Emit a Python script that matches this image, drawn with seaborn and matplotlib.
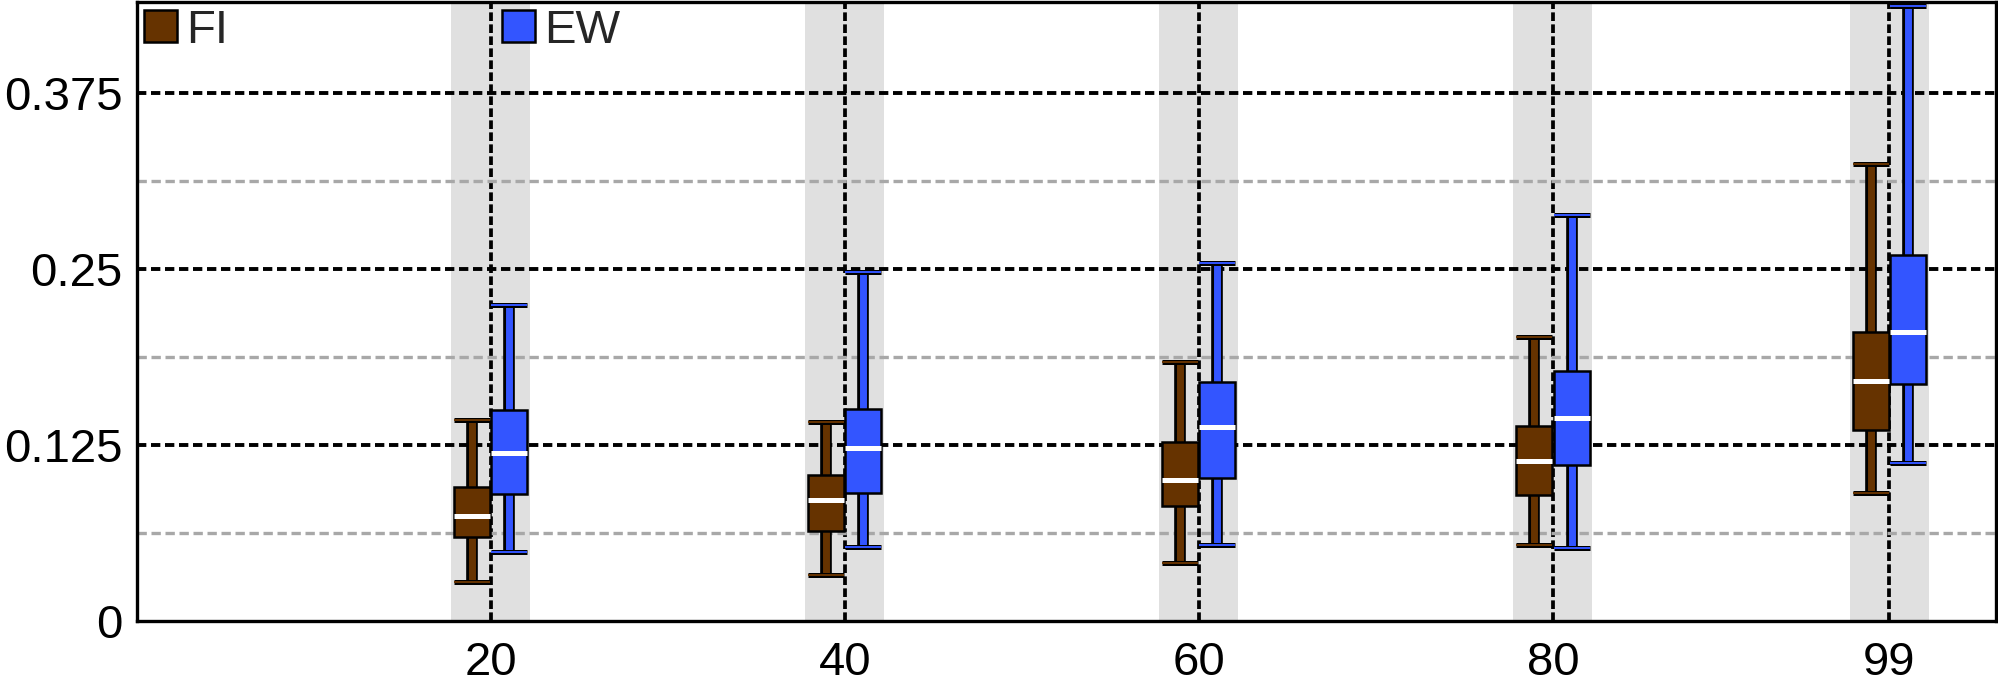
import pandas as pd
import matplotlib
matplotlib.use('Agg')
import matplotlib.pyplot as plt
import matplotlib.patheffects as pe
from matplotlib.ticker import FixedLocator
import seaborn as sns

# Percentile groups on the x axis
percentiles = [20, 40, 60, 80, 99]
methods = ['FI', 'EW']
colors = {'FI': '#663300', 'EW': '#3355ff'}

# Five-number summaries: whisker low, q1, median, q3, whisker high
fi_low = [0.0272, 0.0324, 0.0407, 0.0538, 0.0906]
fi_q1 = [0.0593, 0.0638, 0.0811, 0.0889, 0.1357]
fi_med = [0.0745, 0.0859, 0.0996, 0.1136, 0.1704]
fi_q3 = [0.0949, 0.1036, 0.1266, 0.1380, 0.2053]
fi_high = [0.1424, 0.1413, 0.1841, 0.2013, 0.3244]

ew_low = [0.0486, 0.0526, 0.0538, 0.0519, 0.1120]
ew_q1 = [0.0901, 0.0910, 0.1015, 0.1103, 0.1685]
ew_med = [0.1191, 0.1227, 0.1375, 0.1440, 0.2053]
ew_q3 = [0.1497, 0.1506, 0.1694, 0.1777, 0.2597]
ew_high = [0.2245, 0.2477, 0.2539, 0.2886, 0.4371]

ytick_vals = [0, 0.125, 0.25, 0.375]
ytick_labels = ['0', '0.125', '0.25', '0.375']
yminor_vals = [0.0625, 0.1875, 0.3125]

# Build a long table: five values per box, so quartiles/whiskers land on the read values
summaries = {
    'FI': [fi_low, fi_q1, fi_med, fi_q3, fi_high],
    'EW': [ew_low, ew_q1, ew_med, ew_q3, ew_high],
}
rows = []
for m in methods:
    for i, p in enumerate(percentiles):
        for stat in summaries[m]:
            rows.append({'pct': p, 'value': stat[i], 'method': m})
df = pd.DataFrame(rows)

sns.set_style('white')
plt.rcParams['font.family'] = ['Liberation Sans', 'DejaVu Sans']

fig = plt.figure(figsize=(19.99, 6.84), dpi=100)
ax = fig.add_axes([0.0683, 0.0928, 0.930, 0.9047])

# grey bands behind each group
for p in percentiles:
    ax.axvspan(p - 2.23, p + 2.23, color='#e0e0e0', lw=0, zorder=0)

sns.boxplot(data=df, x='pct', y='value', hue='method', hue_order=methods,
            palette=colors, native_scale=True, width=0.221, gap=0.03,
            whis=(0, 100), saturation=1, linecolor='black', linewidth=1.8,
            ax=ax)

# restyle boxes: coloured whiskers/caps with black outline, white medians
for cont in ax.containers:
    col = cont.boxes[0].get_facecolor()
    for i, box in enumerate(cont.boxes):
        box.set_zorder(2)
        xs = box.get_path().vertices[:, 0]
        for cap in cont.caps[2 * i:2 * i + 2]:
            cap.set_xdata([xs.min(), xs.max()])
    for w in cont.whiskers:
        w.set_color(col)
        w.set_linewidth(5)
        w.set_solid_capstyle('butt')
        w.set_zorder(1.9)
        w.set_path_effects([pe.Stroke(linewidth=8.4, foreground='black'), pe.Normal()])
    for c in cont.caps:
        c.set_color(col)
        c.set_linewidth(1.4)
        c.set_solid_capstyle('butt')
        c.set_zorder(1.9)
        c.set_path_effects([pe.Stroke(linewidth=3.6, foreground='black'), pe.Normal()])
    for md in cont.medians:
        md.set_color('white')
        md.set_linewidth(3.6)
        md.set_zorder(2.1)

ax.set_xlim(0, 105)
ax.set_ylim(0, 0.44)
ax.set_xticks(percentiles)
ax.set_xticklabels([str(p) for p in percentiles])
ax.set_yticks(ytick_vals)
ax.set_yticklabels(ytick_labels)
ax.yaxis.set_minor_locator(FixedLocator(yminor_vals))
ax.set_xlabel('')
ax.set_ylabel('')

ax.tick_params(axis='both', which='major', direction='in', length=19, width=2.4,
               labelsize=34, colors='black')
ax.tick_params(axis='x', pad=15)
ax.tick_params(axis='y', pad=10)
ax.tick_params(which='minor', length=0)

ax.set_axisbelow(True)
ax.grid(which='major', axis='y', color='black', lw=2.8, linestyle=(0, (2.4, 1.2)))
ax.grid(which='minor', axis='y', color='#a8a8a8', lw=2.4, linestyle=(0, (2.8, 1.4)))
ax.grid(which='major', axis='x', color='black', lw=2.7, linestyle=(0, (2.3, 0.9)))
# no dashed line on top of the bottom spine
ax.yaxis.get_major_ticks()[0].gridline.set_visible(False)

for s in ax.spines.values():
    s.set_visible(True)
    s.set_color('black')
    s.set_linewidth(2.4)

old = ax.get_legend()
handles = old.legend_handles
labels = [t.get_text() for t in old.get_texts()]
ax.legend(handles, labels, loc='upper left', bbox_to_anchor=(0, 1), ncol=2,
          frameon=False, fontsize=34, handlelength=0.7, handleheight=0.66,
          handletextpad=0.2, columnspacing=5.8, borderaxespad=0, borderpad=0.15)

fig.savefig('out.png', dpi=100)
